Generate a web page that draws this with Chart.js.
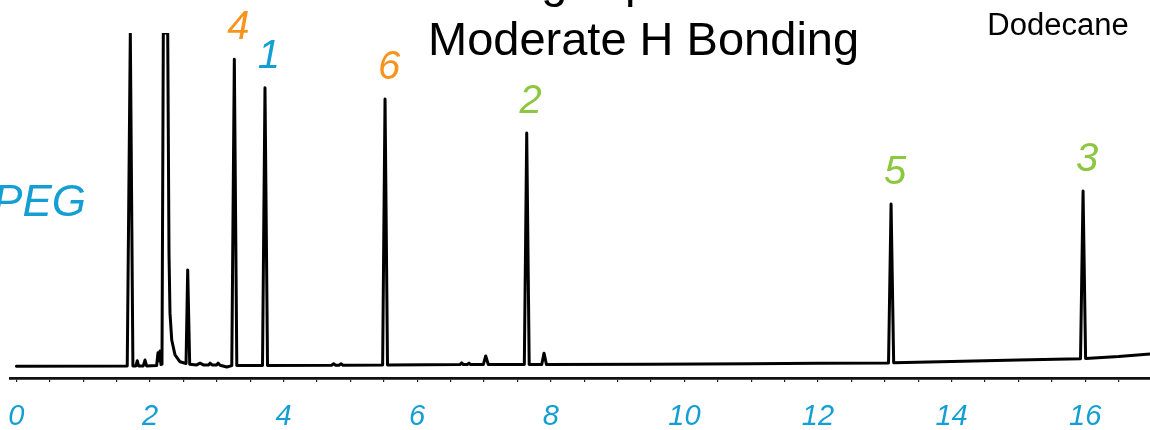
<!DOCTYPE html>
<html>
<head>
<meta charset="utf-8">
<script src="https://cdn.jsdelivr.net/npm/chart.js@4"></script>
<style>
  html, body { margin: 0; padding: 0; background: #fff; }
  #wrap { width: 1150px; height: 430px; }
</style>
</head>
<body>
<div id="wrap"><canvas id="chrom" width="1150" height="430"></canvas></div>
<script>
// Retention time (min) and detector signal (% of full scale) of the trace
const retentionTime = [
  0.00, 1.66, 1.706, 1.745,
  1.79, 1.811, 1.83,
  1.90, 1.926, 1.95,
  2.10, 2.120, 2.135, 2.150, 2.165,
  2.180, 2.200, 2.266, 2.285, 2.300, 2.326, 2.375, 2.450, 2.540,
  2.565, 2.595,
  2.70, 2.75, 2.80, 2.88, 2.90, 2.93, 3.00, 3.02, 3.05, 3.15, 3.225,
  3.263, 3.30,
  3.685, 3.722, 3.76,
  4.72, 4.75, 4.78, 4.83, 4.86, 4.89,
  5.483, 5.519, 5.556,
  6.64, 6.667, 6.69, 6.75, 6.776, 6.80,
  6.99, 7.026, 7.065,
  7.604, 7.640, 7.677,
  7.865, 7.899, 7.935,
  9.50, 11.00, 12.00,
  13.056, 13.094, 13.133,
  14.00, 15.00,
  15.930, 15.968, 16.006,
  16.50, 17.00
];
const detectorSignal = [
  3.4, 3.5, 100, 3.5,
  3.5, 5.0, 3.5,
  3.5, 5.2, 3.5,
  3.6, 7.3, 5.0, 7.8, 3.9,
  4.0, 100, 100, 36.2, 18.8, 11.0, 6.7, 4.7, 4.2,
  31.3, 4.0,
  3.8, 4.3, 3.8, 3.8, 4.3, 3.8, 3.8, 4.3, 3.7, 3.2, 3.6,
  92.4, 3.6,
  3.6, 84.1, 3.6,
  3.7, 4.1, 3.7, 3.7, 4.1, 3.7,
  3.8, 80.9, 3.8,
  3.9, 4.4, 3.9, 3.9, 4.3, 3.9,
  3.9, 6.4, 3.9,
  3.9, 71.0, 3.9,
  3.9, 7.2, 3.9,
  3.95, 4.1, 4.25,
  4.35, 50.4, 4.45,
  4.8, 5.2,
  5.6, 54.2, 5.65,
  6.2, 7.0
];

// Identified analytes: label, apex time, apex height, colour
const peakNames   = ['4', '1', '6', '2', '5', '3'];
const peakTimes   = [3.263, 3.722, 5.519, 7.640, 13.094, 15.968];
const peakHeights = [92.4, 84.1, 80.9, 71.0, 50.4, 54.2];
const peakColors  = ['#f7941d', '#139fd3', '#f7941d', '#8dc63f', '#8dc63f', '#8dc63f'];

// Axis ticks (minutes)
const minorTickStep = 0.5;
const labelledTicks = [0, 2, 4, 6, 8, 10, 12, 14, 16];

const BLUE = '#139fd3';
const SANS = '"Liberation Sans", Arial, Helvetica, sans-serif';

const tracePoints = retentionTime.map((t, i) => ({ x: t, y: detectorSignal[i] }));

const annotations = {
  id: 'annotations',
  afterDraw(chart) {
    const ctx = chart.ctx;
    const xs = chart.scales.x, ys = chart.scales.y;
    ctx.save();
    ctx.textBaseline = 'alphabetic';

    // Header lines
    ctx.fillStyle = '#000';
    ctx.font = '47px ' + SANS;
    ctx.textAlign = 'left';
    ctx.fillText('Strong Dipole', 429, -3);
    ctx.fillText('Moderate H Bonding', 428, 55);
    ctx.font = '31px ' + SANS;
    ctx.textAlign = 'center';
    ctx.fillText('Dodecane', 1058, 35);

    // Stationary phase name
    ctx.fillStyle = BLUE;
    ctx.font = 'italic 44px ' + SANS;
    ctx.textAlign = 'right';
    ctx.fillText('PEG', 86, 216);

    // Peak identities above their apex
    ctx.font = 'italic 40px ' + SANS;
    ctx.textAlign = 'center';
    peakNames.forEach((name, i) => {
      const px = xs.getPixelForValue(peakTimes[i]);
      const py = ys.getPixelForValue(peakHeights[i]);
      ctx.fillStyle = peakColors[i];
      ctx.fillText(name, px + 4, py - 20);
    });
    ctx.restore();
  }
};

new Chart(document.getElementById('chrom'), {
  type: 'line',
  data: {
    datasets: [{
      data: tracePoints,
      borderColor: '#000',
      borderWidth: 3,
      borderJoinStyle: 'round',
      borderCapStyle: 'round',
      pointRadius: 0,
      tension: 0,
      fill: false
    }]
  },
  options: {
    responsive: false,
    animation: false,
    events: [],
    layout: { padding: { top: 33, left: 10, right: 0, bottom: 0 } },
    plugins: { legend: { display: false }, tooltip: { enabled: false }, title: { display: false } },
    scales: {
      x: {
        type: 'linear',
        min: -0.095,
        max: 16.97,
        afterFit(scale) {
          scale.height = 52;
          scale.paddingLeft = 0;
          scale.paddingRight = 0;
        },
        border: { display: true, color: '#111', width: 2.8 },
        grid: { display: true, drawOnChartArea: false, drawTicks: true, tickLength: 4, color: '#222', lineWidth: 1.2 },
        ticks: {
          stepSize: minorTickStep,
          includeBounds: false,
          autoSkip: false,
          maxRotation: 0,
          padding: 18,
          color: BLUE,
          font: { family: SANS, size: 29, style: 'italic' },
          callback: (v) => labelledTicks.includes(v) ? String(v) : ''
        }
      },
      y: {
        display: false,
        min: 0,
        max: 100
      }
    }
  },
  plugins: [annotations]
});
</script>
</body>
</html>
